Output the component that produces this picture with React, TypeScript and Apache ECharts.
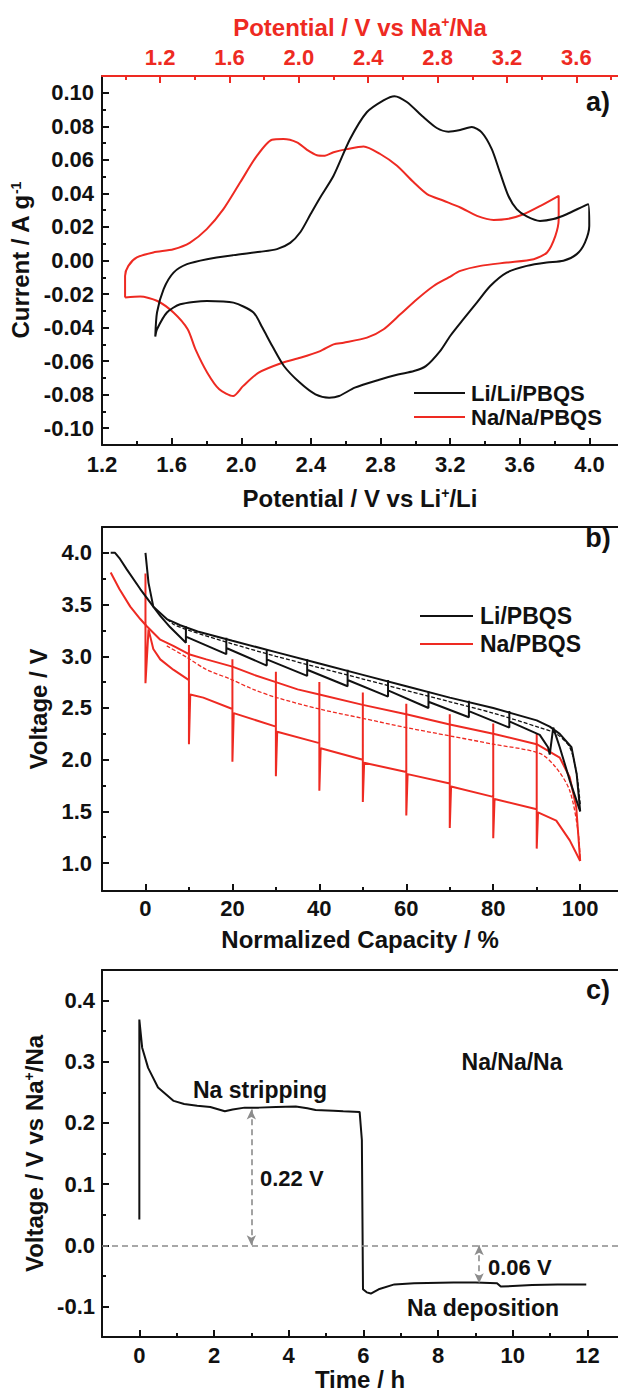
import React, { useEffect, useRef } from "react";
import * as echarts from "echarts";

// ---------- Panel a: cyclic voltammetry ----------
const liCvPotential = [1.506,1.516,1.554,1.611,1.688,1.803,1.955,2.109,2.205,2.281,2.34,2.4,2.45,2.53,2.625,2.721,2.817,2.88,2.951,3.046,3.123,3.19,3.257,3.324,3.381,3.439,3.486,3.534,3.582,3.64,3.716,3.793,3.869,3.993,3.999,3.974,3.927,3.85,3.755,3.64,3.525,3.43,3.353,3.276,3.2,3.142,3.06,2.992,2.9,2.788,2.652,2.562,2.505,2.426,2.336,2.245,2.178,2.121,2.07,1.955,1.803,1.649,1.573,1.516,1.506];
const liCvCurrent = [-0.0454,-0.031,-0.017,-0.0072,-0.0022,0.0008,0.0032,0.0052,0.0068,0.0105,0.017,0.028,0.037,0.0505,0.0724,0.0884,0.0955,0.098,0.0945,0.0855,0.079,0.0768,0.0778,0.0796,0.0764,0.0664,0.0525,0.0386,0.0306,0.0263,0.0236,0.0247,0.0276,0.0336,0.0207,0.0107,0.0038,-0.0002,-0.0012,-0.0032,-0.0072,-0.0152,-0.0251,-0.035,-0.045,-0.054,-0.063,-0.0659,-0.068,-0.0712,-0.0758,-0.0808,-0.0818,-0.0798,-0.0728,-0.0629,-0.051,-0.04,-0.031,-0.0251,-0.0241,-0.0261,-0.031,-0.041,-0.0454];
const naCvPotential = [0.998,0.998,1.017,1.066,1.161,1.277,1.373,1.469,1.565,1.662,1.758,1.845,1.911,1.989,2.047,2.104,2.15,2.2,2.277,2.373,2.469,2.566,2.662,2.739,2.835,2.931,3.027,3.123,3.2,3.296,3.393,3.498,3.498,3.479,3.431,3.354,3.2,3.047,2.931,2.864,2.777,2.681,2.585,2.489,2.393,2.258,2.2,2.123,2.008,1.905,1.768,1.678,1.621,1.541,1.472,1.404,1.359,1.277,1.181,1.085,0.998];
const naCvCurrent = [-0.0221,-0.0092,-0.0032,0.0018,0.0048,0.0067,0.0107,0.0187,0.0306,0.0466,0.0624,0.072,0.0724,0.0704,0.066,0.0628,0.0625,0.0645,0.0664,0.068,0.0635,0.0565,0.0466,0.0396,0.0356,0.0316,0.0266,0.0242,0.0247,0.0276,0.0326,0.0386,0.0247,0.0147,0.0048,0.0008,-0.0012,-0.0032,-0.0062,-0.0101,-0.0152,-0.0231,-0.0321,-0.041,-0.046,-0.049,-0.05,-0.054,-0.058,-0.061,-0.0669,-0.0749,-0.0808,-0.0768,-0.0669,-0.053,-0.041,-0.031,-0.024,-0.0215,-0.0221];
const liPotentialTicks = [1.2,1.6,2.0,2.4,2.8,3.2,3.6,4.0];
const liPotentialMinor = [1.4,1.8,2.2,2.6,3.0,3.4,3.8];
const naPotentialTicks = [1.2,1.6,2.0,2.4,2.8,3.2,3.6];
const naPotentialMinor = [1.0,1.4,1.8,2.2,2.6,3.0,3.4,3.8];
const currentTicks = [-0.1,-0.08,-0.06,-0.04,-0.02,0,0.02,0.04,0.06,0.08,0.1];
const currentMinor = [-0.09,-0.07,-0.05,-0.03,-0.01,0.01,0.03,0.05,0.07,0.09];

// ---------- Panel b: discharge / GITT ----------
const liContCapacity = [-8,-7,-6,-4.3,-1.2,1.8,4.9,8,12,20,30,40,50,60,70,80,90,93,95.3,98,99.2,100];
const liContVoltage = [4.0,4.0,3.95,3.84,3.65,3.48,3.36,3.3,3.24,3.15,3.04,2.93,2.82,2.71,2.6,2.5,2.38,2.32,2.25,2.12,1.86,1.5];
const liGittCapacity = [0,0.7,1.8,3.4,5.7,9.3, 9.3,9.3,18.6, 18.6,18.6,27.9, 27.9,27.9,37.2, 37.2,37.2,46.5, 46.5,46.5,55.8, 55.8,55.8,65.1, 65.1,65.1,74.4, 74.4,74.4,83.7, 83.7,83.7,90.7,92.6,93.0, 93.8,95.3,97.6,100];
const liGittVoltage = [4.0,3.71,3.48,3.39,3.28,3.13, 3.29,3.19,3.02, 3.18,3.08,2.91, 3.07,2.97,2.81, 2.97,2.87,2.71, 2.87,2.77,2.61, 2.77,2.67,2.5, 2.66,2.56,2.41, 2.57,2.47,2.31, 2.47,2.37,2.24,2.12,2.05, 2.31,2.12,1.8,1.5];
const liOcvCapacity = [5,6.4,10,20,30,40,50,60,70,80,90.7,94.5,97.6,99.2,100];
const liOcvVoltage = [3.36,3.31,3.25,3.12,3.0,2.89,2.78,2.67,2.56,2.45,2.31,2.25,2.12,1.86,1.57];
const naContCapacity = [-8,-6,-3.5,-1.2,0.3,3.4,6.4,10,14,20,25,30,35,40,50,60,70,80,90,95.3,97.6,99.1,100];
const naContVoltage = [3.81,3.65,3.48,3.36,3.29,3.16,3.1,3.02,2.97,2.9,2.82,2.75,2.68,2.63,2.53,2.44,2.34,2.25,2.15,2.02,1.83,1.54,1.02];
const naOcvCapacity = [4.9,9.5,14.1,19.5,24.8,30.2,40,50,60,70,80,90.7,94.5,97.6,99.5,100];
const naOcvVoltage = [3.1,2.99,2.87,2.78,2.68,2.6,2.49,2.4,2.31,2.23,2.15,2.06,1.92,1.7,1.31,1.02];
const naGittCapacity = [0,0,0.7,1.8,3.4,6.4,10, 10,10,10.3,13.3,20, 20,20,20.3,30, 30,30,30.3,40, 40,40,40.3,50, 50,50,50.3,60, 60,60,60.3,70, 70,70,70.3,80, 80,80,80.3,90, 90,90,90.3,94.5,97.6,100];
const naGittVoltage = [3.8,2.74,3.26,3.07,2.97,2.87,2.77, 3.11,2.15,2.63,2.6,2.49, 2.97,1.98,2.45,2.32, 2.85,1.84,2.27,2.16, 2.75,1.7,2.11,2.0, 2.65,1.59,1.97,1.88, 2.54,1.46,1.86,1.77, 2.44,1.34,1.74,1.64, 2.35,1.24,1.62,1.52, 2.25,1.14,1.49,1.41,1.22,1.02];
const capacityTicks = [0,20,40,60,80,100];
const capacityMinor = [10,30,50,70,90];
const voltageTicks = [1.0,1.5,2.0,2.5,3.0,3.5,4.0];
const voltageMinor = [1.25,1.75,2.25,2.75,3.25,3.75];

// ---------- Panel c: Na stripping / deposition ----------
const timeHours = [0,0,0.076,0.235,0.5,0.92,1.2,1.55,1.9,2.29,2.5,2.82,3.2,3.66,4.19,4.5,4.72,5.2,5.46,5.9,5.96,5.99,6.09,6.2,6.41,6.83,7.36,8.41,9.0,9.58,9.68,10.52,11.2,11.97];
const stripVoltage = [0.042,0.369,0.323,0.29,0.258,0.236,0.231,0.228,0.226,0.219,0.222,0.225,0.225,0.226,0.227,0.224,0.221,0.22,0.219,0.218,0.172,-0.072,-0.077,-0.079,-0.072,-0.064,-0.062,-0.061,-0.061,-0.062,-0.0676,-0.065,-0.064,-0.064];
const arrowTimes = [3.0, 9.1];
const arrowVoltages = [0.222, -0.062];
const timeTicks = [0,2,4,6,8,10,12];
const timeMinor = [1,3,5,7,9,11];
const naVoltTicks = [-0.1,0,0.1,0.2,0.3,0.4];
const naVoltMinor = [-0.05,0.05,0.15,0.25,0.35];

const FONT = "'Liberation Sans', Arial, Helvetica, sans-serif";
const RED = "#ee2a22";
const BLACK = "#111111";
const GRAY = "#8c8c8c";

const pair = (xs: number[], ys: number[]) => xs.map((x, i) => [x, ys[i]]);

function majorAxis(gridIndex: number, position: string, min: number, max: number, ticks: number[], digits: number, margin: number, color: string, extra: any = {}) {
  return {
    type: "value", gridIndex, position, min, max,
    axisLine: { show: true, onZero: false, lineStyle: { color, width: 2 } },
    axisTick: { show: true, inside: true, length: 7, lineStyle: { color, width: 2 }, customValues: ticks },
    axisLabel: {
      show: true, customValues: ticks, margin, color, fontFamily: FONT, fontWeight: "bold", fontSize: 22,
      formatter: (v: number) => v.toFixed(digits),
    },
    splitLine: { show: false },
    ...extra,
  };
}
function minorAxis(gridIndex: number, position: string, min: number, max: number, ticks: number[], color: string) {
  return {
    type: "value", gridIndex, position, min, max,
    axisLine: { show: false, onZero: false },
    axisTick: { show: true, inside: true, length: 4, lineStyle: { color, width: 2 }, customValues: ticks },
    axisLabel: { show: false },
    splitLine: { show: false },
  };
}
function lineAxis(gridIndex: number, position: string, min: number, max: number) {
  return {
    type: "value", gridIndex, position, min, max,
    axisLine: { show: true, onZero: false, lineStyle: { color: BLACK, width: 2 } },
    axisTick: { show: false }, axisLabel: { show: false }, splitLine: { show: false },
  };
}
const nameStyle = (color: string) => ({
  color, fontFamily: FONT, fontWeight: "bold", fontSize: 24, lineHeight: 24,
  rich: { s: { color, fontFamily: FONT, fontWeight: "bold", fontSize: 14, lineHeight: 12, verticalAlign: "top" } },
});

const LI_MIN = 1.2, LI_MAX = 4.164;
const NA_MIN = 0.865, NA_MAX = 3.84;
const CAP_MIN = -10, CAP_MAX = 108.7;
const V_MIN = 0.73, V_MAX = 4.25;
const T_MIN = -1, T_MAX = 12.82;
const NV_MIN = -0.15, NV_MAX = 0.45;

function txt(text: string, x: number, y: number, size: number, align = "left", color = BLACK) {
  return {
    type: "text", x, y, silent: true,
    style: { text, fill: color, fontFamily: FONT, fontWeight: "bold", fontSize: size, align, verticalAlign: "middle", textAlign: align, textVerticalAlign: "middle" },
  };
}
function legLine(x1: number, x2: number, y: number, color: string) {
  return { type: "line", silent: true, shape: { x1, y1: y, x2, y2: y }, style: { stroke: color, lineWidth: 2 } };
}

export default function App() {
  const ref = useRef<HTMLDivElement>(null);
  useEffect(() => {
    if (!ref.current) return;
    const chart = echarts.init(ref.current, null, { renderer: "svg" });
    const lineBase = { type: "line", showSymbol: false, symbol: "none", animation: false };
    const option: any = {
      animation: false,
      backgroundColor: "#ffffff",
      grid: [
        { left: 102, right: 0, top: 76, height: 369, outerBoundsMode: "none" },
        { left: 102, right: 0, top: 527, height: 364, outerBoundsMode: "none" },
        { left: 102, right: 0, top: 970, height: 367, outerBoundsMode: "none" },
      ],
      xAxis: [
        majorAxis(0, "bottom", LI_MIN, LI_MAX, liPotentialTicks, 1, 8, BLACK, {
          name: "Potential / V vs Li{s|+}/Li", nameLocation: "middle", nameGap: 41, nameTextStyle: nameStyle(BLACK),
        }),
        minorAxis(0, "bottom", LI_MIN, LI_MAX, liPotentialMinor, BLACK),
        majorAxis(0, "top", NA_MIN, NA_MAX, naPotentialTicks, 1, 8, RED, {
          name: "Potential / V vs Na{s|+}/Na", nameLocation: "middle", nameGap: 37, nameTextStyle: nameStyle(RED),
        }),
        minorAxis(0, "top", NA_MIN, NA_MAX, naPotentialMinor, RED),
        majorAxis(1, "bottom", CAP_MIN, CAP_MAX, capacityTicks, 0, 6, BLACK, {
          name: "Normalized Capacity / %", nameLocation: "middle", nameGap: 36, nameTextStyle: nameStyle(BLACK),
        }),
        minorAxis(1, "bottom", CAP_MIN, CAP_MAX, capacityMinor, BLACK),
        lineAxis(1, "top", CAP_MIN, CAP_MAX),
        majorAxis(2, "bottom", T_MIN, T_MAX, timeTicks, 0, 7, BLACK, {
          name: "Time / h", nameLocation: "middle", nameGap: 30, nameTextStyle: nameStyle(BLACK),
        }),
        minorAxis(2, "bottom", T_MIN, T_MAX, timeMinor, BLACK),
        lineAxis(2, "top", T_MIN, T_MAX),
      ],
      yAxis: [
        majorAxis(0, "left", -0.11, 0.11, currentTicks, 2, 8, BLACK, {
          name: "Current / A g{s|-1}", nameLocation: "middle", nameGap: 54, nameRotate: 90, nameTextStyle: nameStyle(BLACK),
        }),
        minorAxis(0, "left", -0.11, 0.11, currentMinor, BLACK),
        majorAxis(1, "left", V_MIN, V_MAX, voltageTicks, 1, 10, BLACK, {
          name: "Voltage / V", nameLocation: "middle", nameGap: 52, nameRotate: 90, nameTextStyle: nameStyle(BLACK),
        }),
        minorAxis(1, "left", V_MIN, V_MAX, voltageMinor, BLACK),
        majorAxis(2, "left", NV_MIN, NV_MAX, naVoltTicks, 1, 7, BLACK, {
          name: "Voltage / V vs Na{s|+}/Na", nameLocation: "middle", nameGap: 49, nameRotate: 90, nameTextStyle: nameStyle(BLACK),
        }),
        minorAxis(2, "left", NV_MIN, NV_MAX, naVoltMinor, BLACK),
      ],
      series: [
        { ...lineBase, name: "Li/Li/PBQS", xAxisIndex: 0, yAxisIndex: 0, smooth: 0.25, data: pair(liCvPotential, liCvCurrent), lineStyle: { color: BLACK, width: 2 }, z: 4 },
        { ...lineBase, name: "Na/Na/PBQS", xAxisIndex: 2, yAxisIndex: 0, smooth: 0.25, data: pair(naCvPotential, naCvCurrent), lineStyle: { color: RED, width: 2 }, z: 3 },

        { ...lineBase, name: "Na/PBQS", xAxisIndex: 4, yAxisIndex: 2, data: pair(naContCapacity, naContVoltage), lineStyle: { color: RED, width: 2 }, z: 3 },
        { ...lineBase, name: "Na GITT", xAxisIndex: 4, yAxisIndex: 2, data: pair(naGittCapacity, naGittVoltage), lineStyle: { color: RED, width: 2 }, z: 3 },
        { ...lineBase, name: "Na OCV", xAxisIndex: 4, yAxisIndex: 2, smooth: 0.3, data: pair(naOcvCapacity, naOcvVoltage), lineStyle: { color: RED, width: 1.3, type: [4, 2] }, z: 3 },
        { ...lineBase, name: "Li/PBQS", xAxisIndex: 4, yAxisIndex: 2, data: pair(liContCapacity, liContVoltage), lineStyle: { color: BLACK, width: 2 }, z: 4 },
        { ...lineBase, name: "Li GITT", xAxisIndex: 4, yAxisIndex: 2, data: pair(liGittCapacity, liGittVoltage), lineStyle: { color: BLACK, width: 2 }, z: 4 },
        { ...lineBase, name: "Li OCV", xAxisIndex: 4, yAxisIndex: 2, smooth: 0.3, data: pair(liOcvCapacity, liOcvVoltage), lineStyle: { color: BLACK, width: 1.3, type: [4, 2] }, z: 4 },

        {
          ...lineBase, name: "Na/Na/Na", xAxisIndex: 7, yAxisIndex: 4, data: pair(timeHours, stripVoltage),
          lineStyle: { color: BLACK, width: 2 }, z: 4,
          markLine: {
            silent: true, animation: false, symbol: ["none", "none"], label: { show: false },
            lineStyle: { color: GRAY, type: [6, 4], width: 1.6 },
            data: [
              { yAxis: 0, symbol: "none" },
              ...arrowTimes.map((t, i) => [
                { coord: [t, 0], symbol: "arrow", symbolSize: [7, 10] },
                { coord: [t, arrowVoltages[i]], symbol: "arrow", symbolSize: [7, 10] },
              ]),
            ],
          },
        },
      ],
      graphic: [
        txt("a)", 598, 102, 27, "center"),
        txt("b)", 598, 538, 27, "center"),
        txt("c)", 598, 990, 27, "center"),
        legLine(414, 465, 393, BLACK), txt("Li/Li/PBQS", 471, 393, 22),
        legLine(414, 465, 417, RED), txt("Na/Na/PBQS", 471, 417, 22),
        legLine(420, 473, 616, BLACK), txt("Li/PBQS", 480, 616, 23),
        legLine(420, 473, 644, RED), txt("Na/PBQS", 480, 644, 23),
        txt("Na stripping", 260, 1090, 23, "center"),
        txt("Na/Na/Na", 512, 1062, 23, "center"),
        txt("0.22 V", 260, 1178, 22),
        txt("0.06 V", 488, 1267, 22),
        txt("Na deposition", 483, 1308, 23, "center"),
      ],
    };
    chart.setOption(option);
    return () => chart.dispose();
  }, []);
  return <div ref={ref} style={{ position: "absolute", left: 0, top: 0, width: 618, height: 1392, background: "#fff" }} />;
}
